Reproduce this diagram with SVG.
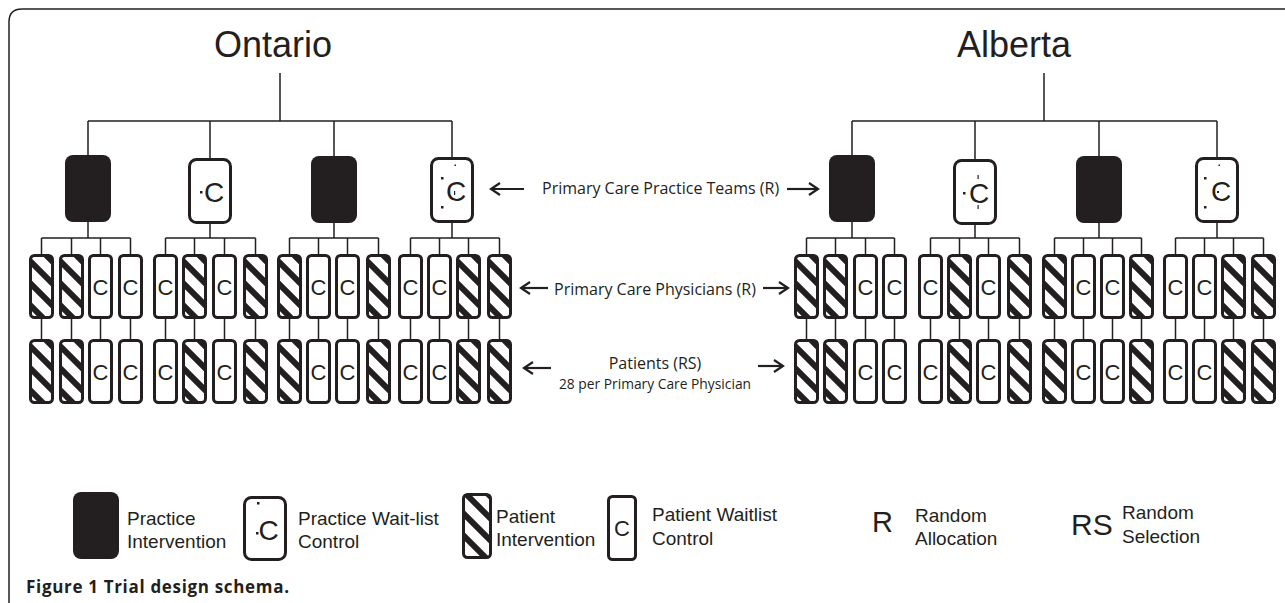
<svg xmlns="http://www.w3.org/2000/svg" xmlns:xlink="http://www.w3.org/1999/xlink" width="1285" height="603" viewBox="0 0 1285 603">
<style>
.ln{fill:none;stroke:#231f20;stroke-width:1.5}
.ar{fill:none;stroke:#231f20;stroke-width:2.2;marker-end:url(#ah)}
.ttl{font-family:"Liberation Sans",Arial,sans-serif;font-size:36px;fill:#231f20;text-anchor:middle}
.mid{font-family:"Open Sans","Liberation Sans",sans-serif;font-size:16px;fill:#231f20}
.sm{font-family:"Open Sans","Liberation Sans",sans-serif;font-size:13.8px;fill:#231f20;text-anchor:middle}
.lg{font-family:"Liberation Sans",Arial,sans-serif;font-size:19px;fill:#231f20}
.big{font-family:"Liberation Sans",Arial,sans-serif;fill:#231f20}
.c{font-family:"Liberation Sans",Arial,sans-serif;font-size:22px;fill:#231f20;text-anchor:middle}
.pc{font-family:"Liberation Sans",Arial,sans-serif;font-size:28px;fill:#231f20;text-anchor:middle}
.dot{fill:#231f20}
.cap{font-family:"Open Sans","Liberation Sans",sans-serif;font-weight:700;font-size:17px;fill:#231f20}
</style>
<defs>
<marker id="ah" markerWidth="12" markerHeight="14" refX="10" refY="7" orient="auto" markerUnits="userSpaceOnUse">
<path d="M1,1 L10,7 L1,13" fill="none" stroke="#231f20" stroke-width="2.2"/>
</marker>
<pattern id="hatch" patternUnits="userSpaceOnUse" width="22" height="22" x="0" y="6">
<rect width="22" height="22" fill="#fff"/>
<path d="M-5,-5 L27,27 M-5,17 L5,27 M17,-5 L27,5" stroke="#231f20" stroke-width="6"/>
</pattern>
<g id="hb"><rect x="1.5" y="1.5" width="22" height="62" rx="4" fill="url(#hatch)" stroke="#231f20" stroke-width="3"/></g>
<g id="cb"><rect x="1.5" y="1.5" width="22" height="62" rx="4" fill="#fff" stroke="#231f20" stroke-width="3"/><text x="12.5" y="40.5" class="c">C</text></g>
<g id="pb"><rect x="0" y="0" width="46" height="67" rx="8" fill="#231f20"/></g>
<g id="pcb"><rect x="1.5" y="1.5" width="41" height="63" rx="7" fill="#fff" stroke="#231f20" stroke-width="3"/><text x="26" y="44" class="pc">C</text></g>
</defs>

<path id="frame" class="ln" d="M9,603 V22 Q9,9 22,9 H1285"/>

<g id="ontario-title"><text x="273" y="57" class="ttl">Ontario</text></g>
<g id="alberta-title"><text x="1014" y="57" class="ttl">Alberta</text></g>

<g id="connectors">
<path class="ln" d="M280,73 V121 M88,121 H452 M88,121 V155 M210,121 V158 M334,121 V156 M452,121 V157"/>
<path class="ln" d="M1044,73 V121 M852,121 H1217 M852,121 V155 M975,121 V159 M1099,121 V156 M1217,121 V157"/>
<path class="ln" d="M88,222 V238 M41.5,238 H130.5 M41.5,238 V254 M71.5,238 V254 M100.5,238 V254 M130.5,238 V254 M41.5,319 V339 M71.5,319 V339 M100.5,319 V339 M130.5,319 V339"/>
<path class="ln" d="M210,224 V238 M165.5,238 H255.5 M165.5,238 V254 M194.5,238 V254 M224.5,238 V254 M255.5,238 V254 M165.5,319 V339 M194.5,319 V339 M224.5,319 V339 M255.5,319 V339"/>
<path class="ln" d="M334,223 V238 M289.5,238 H378.5 M289.5,238 V254 M318.5,238 V254 M347.5,238 V254 M378.5,238 V254 M289.5,319 V339 M318.5,319 V339 M347.5,319 V339 M378.5,319 V339"/>
<path class="ln" d="M452,223 V238 M410.5,238 H499.5 M410.5,238 V254 M439.5,238 V254 M468.5,238 V254 M499.5,238 V254 M410.5,319 V339 M439.5,319 V339 M468.5,319 V339 M499.5,319 V339"/>
<path class="ln" d="M852,222 V238 M806.5,238 H894.5 M806.5,238 V254 M835.5,238 V254 M865.5,238 V254 M894.5,238 V254 M806.5,319 V339 M835.5,319 V339 M865.5,319 V339 M894.5,319 V339"/>
<path class="ln" d="M975,225 V238 M930.5,238 H1019.5 M930.5,238 V254 M959.5,238 V254 M988.5,238 V254 M1019.5,238 V254 M930.5,319 V339 M959.5,319 V339 M988.5,319 V339 M1019.5,319 V339"/>
<path class="ln" d="M1099,223 V238 M1054.5,238 H1141.5 M1054.5,238 V254 M1083.5,238 V254 M1112.5,238 V254 M1141.5,238 V254 M1054.5,319 V339 M1083.5,319 V339 M1112.5,319 V339 M1141.5,319 V339"/>
<path class="ln" d="M1217,223 V238 M1175.5,238 H1263.5 M1175.5,238 V254 M1204.5,238 V254 M1233.5,238 V254 M1263.5,238 V254 M1175.5,319 V339 M1204.5,319 V339 M1233.5,319 V339 M1263.5,319 V339"/>
</g>

<!-- practice teams -->
<g id="ont-practice-1"><use xlink:href="#pb" x="65" y="155"/></g>
<g id="ont-practice-2"><use xlink:href="#pcb" x="188" y="158"/><rect class="dot" x="200" y="191" width="2.5" height="2.5"/></g>
<g id="ont-practice-3"><use xlink:href="#pb" x="311" y="156"/></g>
<g id="ont-practice-4"><use xlink:href="#pcb" x="430" y="157"/><rect class="dot" x="454.5" y="164.5" width="1.5" height="1.5"/><rect class="dot" x="441" y="177" width="2.5" height="2.5"/><rect class="dot" x="441" y="206" width="2.5" height="2.5"/><rect class="dot" x="454" y="191" width="1.2" height="4"/></g>
<g id="alb-practice-1"><use xlink:href="#pb" x="829" y="155"/></g>
<g id="alb-practice-2"><use xlink:href="#pcb" x="953" y="159"/><rect class="dot" x="963" y="192" width="2.5" height="2.5"/><rect class="dot" x="977.5" y="175" width="1.2" height="4"/><rect class="dot" x="977.5" y="205" width="1.2" height="4"/></g>
<g id="alb-practice-3"><use xlink:href="#pb" x="1076" y="156"/></g>
<g id="alb-practice-4"><use xlink:href="#pcb" x="1195" y="157"/><rect class="dot" x="1218.5" y="164.5" width="1.5" height="1.5"/><rect class="dot" x="1204" y="177" width="2.5" height="2.5"/><rect class="dot" x="1204" y="206" width="2.5" height="2.5"/><rect class="dot" x="1217" y="191" width="2" height="2"/></g>

<!-- Ontario physicians -->
<g id="ont-phys-1"><use xlink:href="#hb" x="29" y="254"/></g>
<g id="ont-phys-2"><use xlink:href="#hb" x="59" y="254"/></g>
<g id="ont-phys-3"><use xlink:href="#cb" x="88" y="254"/></g>
<g id="ont-phys-4"><use xlink:href="#cb" x="118" y="254"/></g>
<g id="ont-phys-5"><use xlink:href="#cb" x="153" y="254"/></g>
<g id="ont-phys-6"><use xlink:href="#hb" x="182" y="254"/></g>
<g id="ont-phys-7"><use xlink:href="#cb" x="212" y="254"/></g>
<g id="ont-phys-8"><use xlink:href="#hb" x="243" y="254"/></g>
<g id="ont-phys-9"><use xlink:href="#hb" x="277" y="254"/></g>
<g id="ont-phys-10"><use xlink:href="#cb" x="306" y="254"/></g>
<g id="ont-phys-11"><use xlink:href="#cb" x="335" y="254"/></g>
<g id="ont-phys-12"><use xlink:href="#hb" x="366" y="254"/></g>
<g id="ont-phys-13"><use xlink:href="#cb" x="398" y="254"/></g>
<g id="ont-phys-14"><use xlink:href="#cb" x="427" y="254"/></g>
<g id="ont-phys-15"><use xlink:href="#hb" x="456" y="254"/></g>
<g id="ont-phys-16"><use xlink:href="#hb" x="487" y="254"/></g>

<!-- Ontario patients -->
<g id="ont-pat-1"><use xlink:href="#hb" x="29" y="339"/></g>
<g id="ont-pat-2"><use xlink:href="#hb" x="59" y="339"/></g>
<g id="ont-pat-3"><use xlink:href="#cb" x="88" y="339"/></g>
<g id="ont-pat-4"><use xlink:href="#cb" x="118" y="339"/></g>
<g id="ont-pat-5"><use xlink:href="#cb" x="153" y="339"/></g>
<g id="ont-pat-6"><use xlink:href="#hb" x="182" y="339"/></g>
<g id="ont-pat-7"><use xlink:href="#cb" x="212" y="339"/></g>
<g id="ont-pat-8"><use xlink:href="#hb" x="243" y="339"/></g>
<g id="ont-pat-9"><use xlink:href="#hb" x="277" y="339"/></g>
<g id="ont-pat-10"><use xlink:href="#cb" x="306" y="339"/></g>
<g id="ont-pat-11"><use xlink:href="#cb" x="335" y="339"/></g>
<g id="ont-pat-12"><use xlink:href="#hb" x="366" y="339"/></g>
<g id="ont-pat-13"><use xlink:href="#cb" x="398" y="339"/></g>
<g id="ont-pat-14"><use xlink:href="#cb" x="427" y="339"/></g>
<g id="ont-pat-15"><use xlink:href="#hb" x="456" y="339"/></g>
<g id="ont-pat-16"><use xlink:href="#hb" x="487" y="339"/></g>

<!-- Alberta physicians -->
<g id="alb-phys-1"><use xlink:href="#hb" x="794" y="254"/></g>
<g id="alb-phys-2"><use xlink:href="#hb" x="823" y="254"/></g>
<g id="alb-phys-3"><use xlink:href="#cb" x="853" y="254"/></g>
<g id="alb-phys-4"><use xlink:href="#cb" x="882" y="254"/></g>
<g id="alb-phys-5"><use xlink:href="#cb" x="918" y="254"/></g>
<g id="alb-phys-6"><use xlink:href="#hb" x="947" y="254"/></g>
<g id="alb-phys-7"><use xlink:href="#cb" x="976" y="254"/></g>
<g id="alb-phys-8"><use xlink:href="#hb" x="1007" y="254"/></g>
<g id="alb-phys-9"><use xlink:href="#hb" x="1042" y="254"/></g>
<g id="alb-phys-10"><use xlink:href="#cb" x="1071" y="254"/></g>
<g id="alb-phys-11"><use xlink:href="#cb" x="1100" y="254"/></g>
<g id="alb-phys-12"><use xlink:href="#hb" x="1129" y="254"/></g>
<g id="alb-phys-13"><use xlink:href="#cb" x="1163" y="254"/></g>
<g id="alb-phys-14"><use xlink:href="#cb" x="1192" y="254"/></g>
<g id="alb-phys-15"><use xlink:href="#hb" x="1221" y="254"/></g>
<g id="alb-phys-16"><use xlink:href="#hb" x="1251" y="254"/></g>

<!-- Alberta patients -->
<g id="alb-pat-1"><use xlink:href="#hb" x="794" y="339"/></g>
<g id="alb-pat-2"><use xlink:href="#hb" x="823" y="339"/></g>
<g id="alb-pat-3"><use xlink:href="#cb" x="853" y="339"/></g>
<g id="alb-pat-4"><use xlink:href="#cb" x="882" y="339"/></g>
<g id="alb-pat-5"><use xlink:href="#cb" x="918" y="339"/></g>
<g id="alb-pat-6"><use xlink:href="#hb" x="947" y="339"/></g>
<g id="alb-pat-7"><use xlink:href="#cb" x="976" y="339"/></g>
<g id="alb-pat-8"><use xlink:href="#hb" x="1007" y="339"/></g>
<g id="alb-pat-9"><use xlink:href="#hb" x="1042" y="339"/></g>
<g id="alb-pat-10"><use xlink:href="#cb" x="1071" y="339"/></g>
<g id="alb-pat-11"><use xlink:href="#cb" x="1100" y="339"/></g>
<g id="alb-pat-12"><use xlink:href="#hb" x="1129" y="339"/></g>
<g id="alb-pat-13"><use xlink:href="#cb" x="1163" y="339"/></g>
<g id="alb-pat-14"><use xlink:href="#cb" x="1192" y="339"/></g>
<g id="alb-pat-15"><use xlink:href="#hb" x="1221" y="339"/></g>
<g id="alb-pat-16"><use xlink:href="#hb" x="1251" y="339"/></g>

<!-- level labels -->
<g id="label-practice-teams">
<path class="ar" d="M524,189 H491"/>
<text x="542" y="194" class="mid">Primary Care Practice Teams (R)</text>
<path class="ar" d="M787,189 H818"/>
</g>
<g id="label-physicians">
<path class="ar" d="M548,288 H521"/>
<text x="554" y="295" class="mid">Primary Care Physicians (R)</text>
<path class="ar" d="M763,288 H788"/>
</g>
<g id="label-patients">
<path class="ar" d="M551,368 H524"/>
<text x="655" y="369" class="mid" text-anchor="middle">Patients (RS)</text>
<text x="655" y="389" class="sm">28 per Primary Care Physician</text>
<path class="ar" d="M758,366 H783"/>
</g>

<!-- legend -->
<g id="legend-practice-intervention">
<use xlink:href="#pb" x="73" y="492"/>
<text class="lg" x="127" y="525">Practice</text>
<text class="lg" x="127" y="548">Intervention</text>
</g>
<g id="legend-practice-control">
<rect x="244.5" y="497.5" width="41" height="62" rx="7" fill="#fff" stroke="#231f20" stroke-width="3"/>
<text x="268.5" y="540" class="pc">C</text>
<rect class="dot" x="257" y="502" width="2.5" height="2.5"/>
<rect class="dot" x="256" y="532" width="2.5" height="2.5"/>
<text class="lg" x="298" y="525">Practice Wait-list</text>
<text class="lg" x="298" y="548">Control</text>
</g>
<g id="legend-patient-intervention">
<rect x="463.5" y="494.5" width="27" height="63" rx="4" fill="url(#hatch)" stroke="#231f20" stroke-width="3"/>
<text class="lg" x="496" y="523">Patient</text>
<text class="lg" x="496" y="546">Intervention</text>
</g>
<g id="legend-patient-control">
<rect x="608.5" y="496.5" width="27" height="63" rx="4" fill="#fff" stroke="#231f20" stroke-width="3"/>
<text x="622" y="536" class="c">C</text>
<text class="lg" x="652" y="521">Patient Waitlist</text>
<text class="lg" x="652" y="545">Control</text>
</g>
<g id="legend-random-allocation">
<text class="big" x="872" y="532" font-size="29">R</text>
<text class="lg" x="915" y="522">Random</text>
<text class="lg" x="915" y="545">Allocation</text>
</g>
<g id="legend-random-selection">
<text class="big" x="1071" y="535" font-size="30">RS</text>
<text class="lg" x="1122" y="519">Random</text>
<text class="lg" x="1122" y="543">Selection</text>
</g>

<g id="caption"><text class="cap" x="26" y="593" textLength="263" lengthAdjust="spacing">Figure 1 Trial design schema.</text></g>
</svg>
